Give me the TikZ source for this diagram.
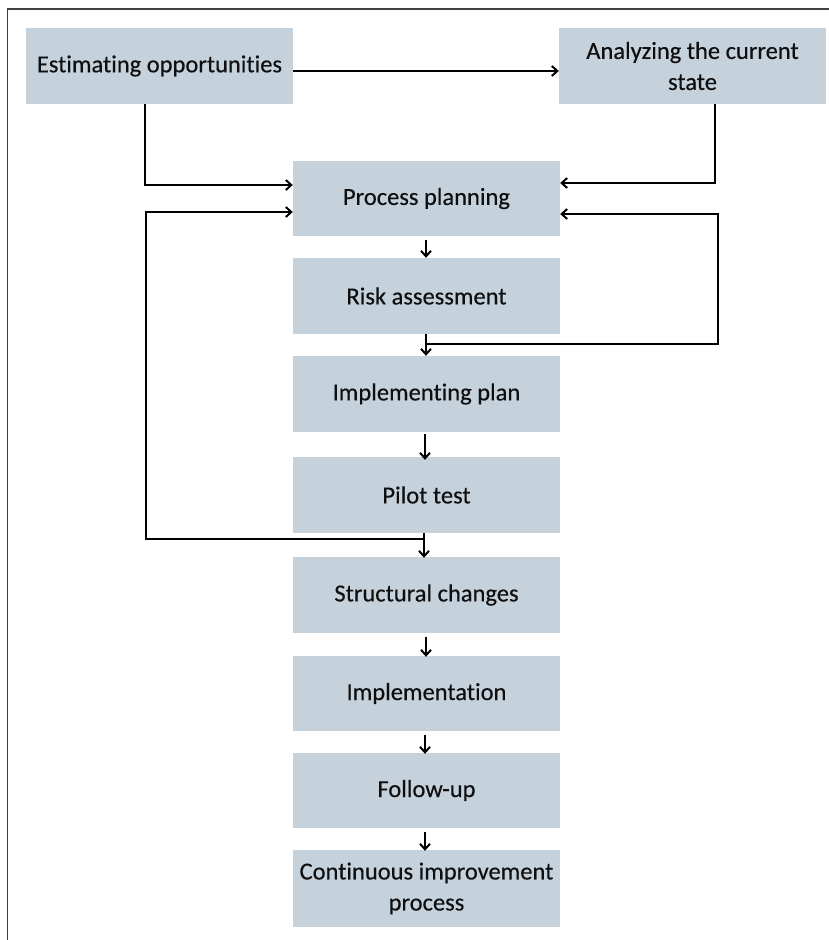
\documentclass[tikz,border=0pt]{standalone}
\usepackage{fontspec}
\setmainfont[Ligatures=NoCommon, FakeBold=0.3]{Carlito}
\usetikzlibrary{arrows.meta}
\definecolor{boxfill}{RGB}{197,209,219}
\definecolor{ink}{RGB}{15,15,15}
\begin{document}
\begin{tikzpicture}[x=1pt,y=-1pt,
  stepbox/.style={fill=boxfill, draw=none, minimum width=267pt, minimum height=76pt,
    inner sep=0pt, align=center, text=ink,
    font=\fontsize{24.5}{31}\selectfont},
  link/.style={draw=black, line width=2.4pt, line join=miter},
  arr/.style={link, -{Straight Barb[length=5.5pt,width=10pt,line width=2pt]}}]
\useasboundingbox (0,0) rectangle (829,940);
% outer frame: top and left edges only
\draw[line width=1.6pt, draw=black!75] (7.5,940) -- (7.5,9) -- (829,9);

% top row
\node[stepbox] (est) at (159.5,66) {Estimating opportunities};
\node[stepbox] (ana) at (692.5,66) {Analyzing the current\\state};

% main column
\node[stepbox, minimum height=75pt] (pp)     at (426.5,198.5) {Process planning};
\node[stepbox] (risk)   at (426.5,296)   {Risk assessment};
\node[stepbox] (impl)   at (426.5,394)   {Implementing plan};
\node[stepbox] (pilot)  at (426.5,495)   {Pilot test};
\node[stepbox] (struct) at (426.5,595)   {Structural changes};
\node[stepbox, minimum height=75pt] (imp)    at (426.5,693.5) {Implementation};
\node[stepbox, minimum height=75pt] (fol)    at (426.5,790.5) {Follow-up};
\node[stepbox, minimum height=77pt] (cip)    at (426.5,888.5) {Continuous improvement\\process};

% top row connectors
\draw[arr] (est.east |- 0,71) -- (ana.west |- 0,71);
\draw[arr] (est.south -| 145,0) |- (pp.west |- 0,185);
\draw[arr] (ana.south -| 715,0) |- (pp.east |- 0,183);

% straight flow down the column
\coordinate (j1) at (426,344);
\coordinate (j2) at (424,539);
\draw[arr] ([yshift=-4pt]pp.south -| 426,0) -- (risk.north -| 426,0);
\draw[arr] (risk.south -| 426,0) -- (impl.north -| 426,0);
\draw[arr] ([yshift=-2pt]impl.south -| 425,0) -- ([yshift=-3pt]pilot.north -| 425,0);
\draw[arr] (pilot.south -| 424,0) -- ([yshift=-1pt]struct.north -| 424,0);
\draw[arr] ([yshift=-4pt]struct.south -| 426,0) -- ([yshift=-1pt]imp.north -| 426,0);
\draw[arr] ([yshift=-4pt]imp.south -| 425,0) -- ([yshift=-1pt]fol.north -| 425,0);
\draw[arr] ([yshift=-4pt]fol.south -| 425,0) -- ([yshift=-1pt]cip.north -| 425,0);

% feedback loops to process planning
\draw[arr] (j1) -- (718,344) |- (pp.east |- 0,214);
\draw[arr] (j2) -- (146,539) |- (pp.west |- 0,212);
\end{tikzpicture}
\end{document}
